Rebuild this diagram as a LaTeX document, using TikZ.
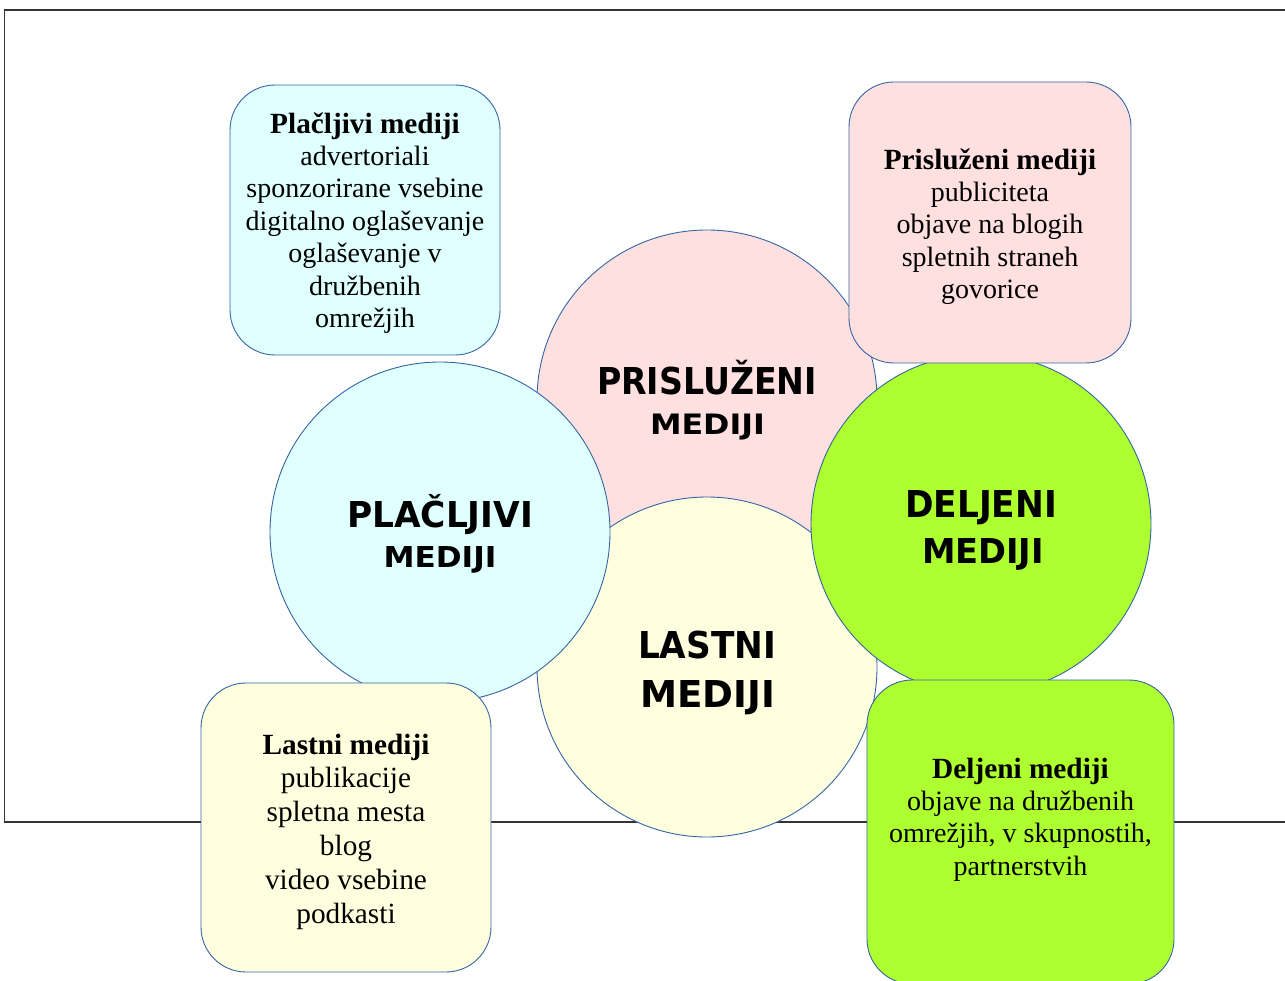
\documentclass[tikz,border=0pt]{standalone}
\usepackage{fontspec}
\setmainfont{Liberation Serif}
\newfontfamily\comicfont{DejaVu Sans}
\usepackage{graphicx}
\definecolor{edgeblue}{HTML}{3465A4}
\definecolor{cyanfill}{HTML}{E0FFFF}
\definecolor{pinkfill}{HTML}{FFE0E0}
\definecolor{yellowfill}{HTML}{FFFFE0}
\definecolor{greenfill}{HTML}{ADFF2F}
\definecolor{framegray}{HTML}{333333}
\newsavebox\lblbox
\newsavebox\capbox
\newcommand\lblfont{\comicfont\bfseries\fontsize{30}{30}\selectfont}
\newcommand\fitlbl[3]{%
  \sbox\lblbox{\lblfont #3}%
  \sbox\capbox{\lblfont H}%
  \pgfmathsetmacro\lblsx{#1/\wd\lblbox}%
  \pgfmathsetmacro\lblsy{#2/\ht\capbox}%
  \scalebox{\lblsx}[\lblsy]{\usebox\lblbox}}
\newcommand\boxtitle[1]{{\fontsize{29.3}{32.4}\selectfont\bfseries #1}}
\tikzset{
  circ/.style={circle, draw=edgeblue, line width=0.9pt, minimum size=340pt, inner sep=0pt},
  rbox/.style={rectangle, rounded corners=45pt, draw=edgeblue, line width=0.9pt, inner sep=0pt},
  lbl/.style={inner sep=0pt, anchor=base},
  btext/.style={align=center, inner sep=0pt, text=black, font=\fontsize{28}{32.4}\selectfont},
  btextl/.style={btext, font=\fontsize{29.3}{33.8}\selectfont},
  frameline/.style={draw=framegray, line width=1.8pt}
}
\begin{document}
\begin{tikzpicture}[x=1pt,y=-1pt]
\useasboundingbox (0,0) rectangle (1285,981);
% frame
\draw[frameline] (1300,10) -- (4.5,10) -- (4.5,822) -- (1300,822);
% circles
\node[circ, fill=pinkfill]   (cpris) at (707,400) {};
\node[circ, fill=yellowfill] (clast) at (707,667) {};
\node[circ, fill=cyanfill]   (cplac) at (440,532) {};
\node[circ, fill=greenfill]  (cdelj) at (981,524) {};
% circle labels
\node[lbl] (lpris1) at (707,395) {\fitlbl{220}{27}{PRISLUŽENI}};
\node[lbl] (lpris2) at (707.5,435) {\fitlbl{115}{20.5}{MEDIJI}};
\node[lbl] (lplac1) at (440,527) {\fitlbl{186}{26}{PLAČLJIVI}};
\node[lbl] (lplac2) at (440,567.5) {\fitlbl{113}{21}{MEDIJI}};
\node[lbl] (ldelj1) at (981,517) {\fitlbl{152}{27}{DELJENI}};
\node[lbl] (ldelj2) at (983,563) {\fitlbl{122}{25}{MEDIJI}};
\node[lbl] (llast1) at (707,658) {\fitlbl{138}{27}{LASTNI}};
\node[lbl] (llast2) at (707.5,707) {\fitlbl{135}{27}{MEDIJI}};
% boxes
\node[rbox, fill=cyanfill, minimum width=270pt, minimum height=270pt] (bplac) at (365,220) {};
\node[rbox, fill=pinkfill, minimum width=282pt, minimum height=281pt] (bpris) at (990,222.5) {};
\node[rbox, fill=yellowfill, minimum width=290pt, minimum height=289pt] (blast) at (346,827.5) {};
\node[rbox, fill=greenfill, minimum width=307pt, minimum height=304pt] (bdelj) at (1020.5,832) {};
% box texts
\node[btext] (tplac) at (365,223) {\boxtitle{Plačljivi mediji}\\advertoriali\\sponzorirane vsebine\\digitalno oglaševanje\\oglaševanje v\\družbenih\\omrežjih};
\node[btext] (tpris) at (990,226.5) {\boxtitle{Prisluženi mediji}\\publiciteta\\objave na blogih\\spletnih straneh\\govorice};
\node[btextl] (tlast) at (346,831.5) {\boxtitle{Lastni mediji}\\publikacije\\spletna mesta\\blog\\video vsebine\\podkasti};
\node[btext] (tdelj) at (1020.5,819.5) {\boxtitle{Deljeni mediji}\\objave na družbenih\\omrežjih, v skupnostih,\\partnerstvih};
\end{tikzpicture}
\end{document}
